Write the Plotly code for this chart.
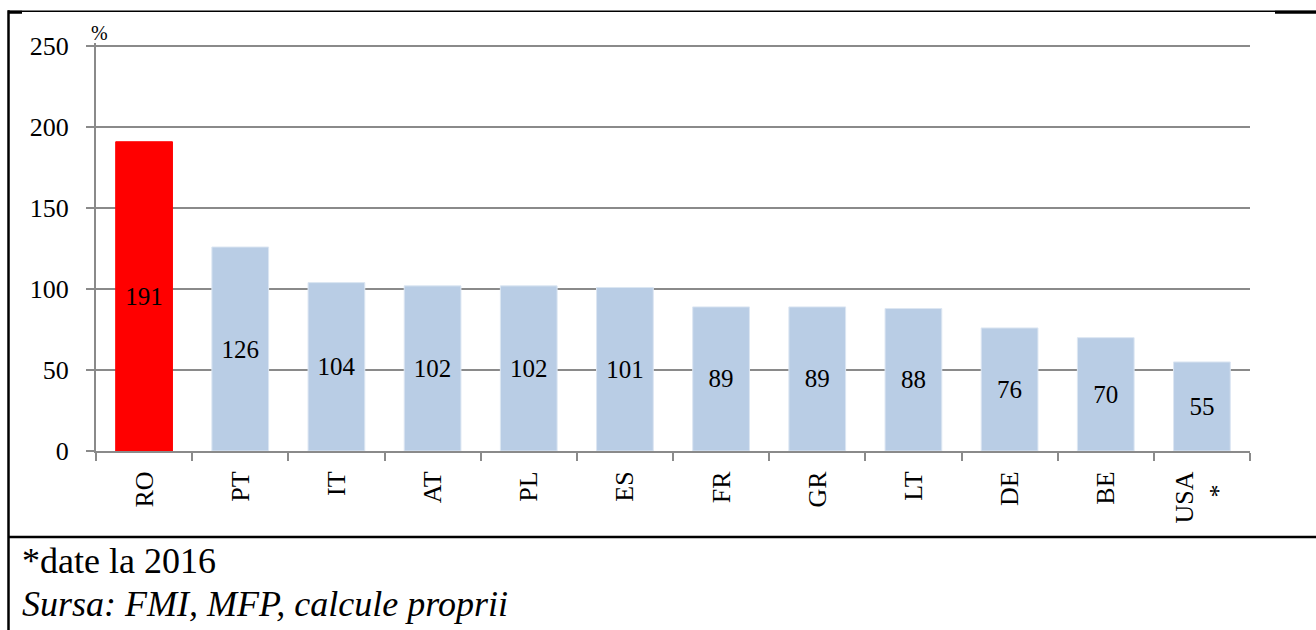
import plotly.graph_objects as go

# Debt ratios by country (%)
countries = ["RO", "PT", "IT", "AT", "PL", "ES", "FR", "GR", "LT", "DE", "BE", "USA<br>*\u00a0\u00a0"]
values = [191, 126, 104, 102, 102, 101, 89, 89, 88, 76, 70, 55]
highlight = "RO"
y_ticks = [0, 50, 100, 150, 200, 250]
y_max = 252

footnote = "*date la 2016"
source = "Sursa: FMI, MFP, calcule proprii"

W, H = 1316, 630
PX_PER_UNIT = 405 / 250
L, R, B = 96, 66, 179
T = H - B - PX_PER_UNIT * y_max
PW, PH = W - L - R, H - T - B

def px_x(px):
    return (px - L) / PW

def px_y(py):
    return (H - B - py) / PH

SERIF = "Liberation Serif"
GRID = "#8a8a8a"

colors = ["#FF0000" if c == highlight else "#B9CDE5" for c in countries]
line_colors = ["#FF0000" if c == highlight else "#DCE6F2" for c in countries]

fig = go.Figure(go.Bar(
    x=countries,
    y=values,
    marker=dict(color=colors, line=dict(color=line_colors, width=1)),
    text=[str(v) for v in values],
    textposition="inside",
    insidetextanchor="middle",
    textangle=0,
    textfont=dict(family=SERIF, size=25, color="black"),
    constraintext="none",
    hoverinfo="skip",
))

fig.update_layout(
    width=W, height=H,
    margin=dict(l=L, r=R, t=T, b=B),
    paper_bgcolor="white", plot_bgcolor="white",
    bargap=0.41,
    showlegend=False,
    font=dict(family=SERIF, color="black"),
)

fig.update_yaxes(
    range=[0, y_max], tickvals=y_ticks, autorange=False,
    showgrid=True, gridcolor=GRID, gridwidth=2,
    zeroline=False,
    showline=True, linecolor=GRID, linewidth=2,
    ticks="outside", ticklen=8, tickwidth=2, tickcolor=GRID,
    ticklabelstandoff=12,
    tickfont=dict(family=SERIF, size=26, color="black"),
)
fig.update_xaxes(
    showline=True, linecolor=GRID, linewidth=2,
    ticks="outside", ticklen=8, tickwidth=2, tickcolor=GRID,
    tickson="boundaries",
    tickangle=-90,
    ticklabelstandoff=8,
    tickfont=dict(family=SERIF, size=26, color="black"),
)

# Unit label above the value axis
fig.add_annotation(
    text="%", xref="paper", yref="paper", x=px_x(99), y=px_y(33),
    xanchor="center", yanchor="middle", showarrow=False,
    font=dict(family=SERIF, size=20, color="black"),
)

# Table-cell frame around the chart and its notes
frame = [
    (8, 11, W, 11, 1.5),
    (8, 12, 22, 12, 3),
    (1275, 12, W, 12, 3),
    (8.5, 10, 8.5, H, 2.5),
    (8, 537, W, 537, 2.5),
]
for x0, y0, x1, y1, w in frame:
    fig.add_shape(
        type="line", xref="paper", yref="paper",
        x0=px_x(x0), y0=px_y(y0), x1=px_x(x1), y1=px_y(y1),
        line=dict(color="black", width=w),
    )

fig.add_annotation(
    text=footnote, xref="paper", yref="paper", x=px_x(20), y=px_y(561),
    xanchor="left", yanchor="middle", showarrow=False,
    font=dict(family=SERIF, size=36, color="black"),
)
fig.add_annotation(
    text=source, xref="paper", yref="paper", x=px_x(20), y=px_y(604),
    xanchor="left", yanchor="middle", showarrow=False,
    font=dict(family=SERIF, size=36, color="black", style="italic"),
)

fig.write_html("out.html")
